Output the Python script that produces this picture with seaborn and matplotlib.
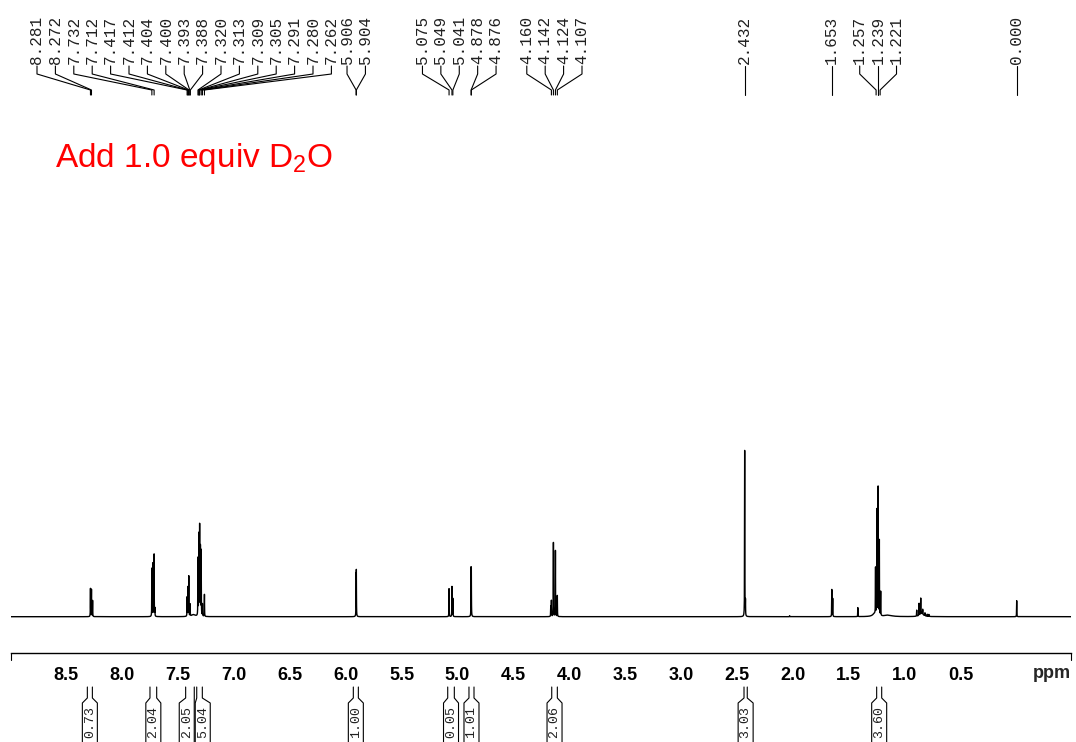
import numpy as np
import matplotlib
matplotlib.use('Agg')
import matplotlib.pyplot as plt
import seaborn as sns

# --- data ---
# peak positions (ppm), heights (px above baseline) and half widths (ppm)
peak_ppm = [8.281, 8.272, 8.262, 7.732, 7.722, 7.712, 7.705,
            7.417, 7.410, 7.402, 7.390, 7.360,
            7.320, 7.313, 7.309, 7.305, 7.298, 7.291, 7.280, 7.262,
            5.906, 5.904, 5.075, 5.049, 5.041, 4.878, 4.876,
            4.166, 4.160, 4.142, 4.124, 4.107,
            2.432, 2.425, 2.030, 1.653, 1.645, 1.420, 1.270,
            1.262, 1.250, 1.239, 1.228, 1.216, 1.150,
            0.894, 0.873, 0.858, 0.850, 0.840, 0.820, 0.800, 0.785, 0.000]
peak_height = [28, 27, 16, 48, 53, 62, 8,
               19, 29, 40, 12, 2,
               57, 55, 75, 86, 68, 65, 12, 22,
               36, 40, 28, 30, 18, 42, 40,
               10, 16, 74, 66, 21,
               166, 15, 1, 27, 18, 9, 3,
               46, 105, 128, 75, 24, 1.5,
               6, 12, 16, 3, 5, 3, 2, 2, 16]
peak_width = [0.001] * 11 + [0.02] + [0.001] * 26 + [0.02] + [0.001] * 5 + [0.04] \
             + [0.001] * 3 + [0.02] + [0.001] * 5

# chemical shift labels at the top, and how many share one bracket
shift_labels = ['8.281', '8.272', '7.732', '7.712', '7.417', '7.412', '7.404', '7.400',
                '7.393', '7.388', '7.320', '7.313', '7.309', '7.305', '7.291', '7.280',
                '7.262', '5.906', '5.904', '5.075', '5.049', '5.041', '4.878', '4.876',
                '4.160', '4.142', '4.124', '4.107', '2.432', '1.653', '1.257', '1.239',
                '1.221', '0.000']
label_groups = [17, 2, 5, 4, 1, 1, 3, 1]

# integrals: range (ppm) and value
integral_from = [8.309, 7.749, 7.430, 7.331, 5.931, 5.087, 4.897, 4.157, 2.438, 1.252]
integral_to = [8.264, 7.689, 7.353, 7.281, 5.886, 5.028, 4.852, 4.107, 2.409, 1.207]
integral_values = ['0.73', '2.04', '2.05', '5.04', '1.00', '0.05', '1.01', '2.06', '3.03', '3.60']

tick_values = [8.5, 8.0, 7.5, 7.0, 6.5, 6.0, 5.5, 5.0, 4.5, 4.0, 3.5, 3.0, 2.5, 2.0, 1.5, 1.0, 0.5, 0.0]
tick_labels = ['8.5', '8.0', '7.5', '7.0', '6.5', '6.0', '5.5', '5.0', '4.5', '4.0',
               '3.5', '3.0', '2.5', '2.0', '1.5', '1.0', '0.5', '']

# --- style ---
sns.set_style('white')
plt.rcParams['font.family'] = ['Liberation Sans', 'DejaVu Sans']
plt.rcParams['mathtext.fontset'] = 'custom'
plt.rcParams['mathtext.rm'] = 'Liberation Sans'

W, H = 1076, 742
k = 111.85      # px per ppm
x0 = 1016.7     # pixel of 0 ppm


def px(ppm):
    return x0 - k * ppm


def ppm_at(x):
    return (x0 - x) / k


fig = plt.figure(figsize=(W / 100, H / 100), dpi=100)

# spectrum + ppm ruler
axis_y = 652.7
top_y = 440
ax = fig.add_axes([11 / W, (H - axis_y) / H, 1060 / W, (axis_y - top_y) / H])
grid = np.union1d(np.arange(ppm_at(1071), ppm_at(11), 0.0005), peak_ppm)
intensity = np.zeros_like(grid)
for p, h, w in zip(peak_ppm, peak_height, peak_width):
    intensity += h / (1 + ((grid - p) / w) ** 2)
sns.lineplot(x=grid, y=intensity, ax=ax, color='black', linewidth=1.0,
             estimator=None, sort=False)
ax.set_xlim(ppm_at(11), ppm_at(1071))
ax.set_ylim(-36, axis_y - top_y - 36)
for s in ['left', 'right', 'top']:
    ax.spines[s].set_visible(False)
ax.spines['bottom'].set_color('black')
ax.spines['bottom'].set_linewidth(1.0)
ax.set_yticks([])
ax.set_xticks(tick_values, tick_labels, fontweight='bold', fontsize=13)
ax.set_xticks(np.arange(0, 9.0, 0.1), minor=True)
ax.tick_params(axis='x', which='major', direction='out', length=5, width=0.8, pad=5, colors='black')
ax.tick_params(axis='x', which='minor', direction='out', length=2.4, width=0.8, colors='black')
ax.set_xlabel('')
ax.set_ylabel('')
for xe in ax.get_xlim():
    ax.plot([xe, xe], [0, -7 / (axis_y - top_y)], transform=ax.get_xaxis_transform(),
            color='black', lw=0.8, clip_on=False)

# overlay in pixel rows, ppm columns
ov = fig.add_axes([0, 0, 1, 1])
ov.set_xlim(ppm_at(0), ppm_at(W))
ov.set_ylim(H, 0)
ov.axis('off')
ov.patch.set_alpha(0)

# top shift labels with brackets
sp = 18.4 / k
start = 0
for n in label_groups:
    vals = shift_labels[start:start + n]
    pk = [float(v) for v in vals]
    first = np.mean(pk) + (n - 1) / 2 * sp
    first = min(first, ppm_at(37))
    for i, (v, p) in enumerate(zip(vals, pk)):
        lx = first - i * sp
        ov.text(lx, 64, v, rotation=90, ha='center', va='bottom',
                family='Liberation Mono', fontsize=11.5, color='#202020')
        ov.plot([lx, lx, p, p], [66, 74, 90, 95], color='black', lw=0.8)
    start += n

# integrals below the ruler
bw = 15
centres = [(px(a) + px(b)) / 2 for a, b in zip(integral_from, integral_to)]
for i in range(1, len(centres)):
    gap = centres[i] - centres[i - 1] - bw - 1
    if gap < 0:
        centres[i - 1] += gap / 2
        centres[i] -= gap / 2
for a, b, c, v in zip(integral_from, integral_to, centres, integral_values):
    xl, xr = px(a), px(b)
    ov.plot([ppm_at(xl), ppm_at(xl), ppm_at(c - bw / 2), ppm_at(c - bw / 2)],
            [687, 698, 703, 745], color='black', lw=0.8)
    ov.plot([ppm_at(xr), ppm_at(xr), ppm_at(c + bw / 2), ppm_at(c + bw / 2)],
            [687, 698, 703, 745], color='black', lw=0.8)
    ov.text(ppm_at(c), 706, v, rotation=90, ha='center', va='top',
            family='Liberation Mono', fontsize=9.5, color='#202020')

ov.text(ppm_at(1052), 673, 'ppm', ha='center', va='center', fontsize=13, fontweight='bold')
ov.text(ppm_at(55), 167, r'Add 1.0 equiv D$_\mathregular{2}$O', color='red',
        fontsize=24, ha='left', va='baseline')

fig.savefig('out.png', dpi=100)
